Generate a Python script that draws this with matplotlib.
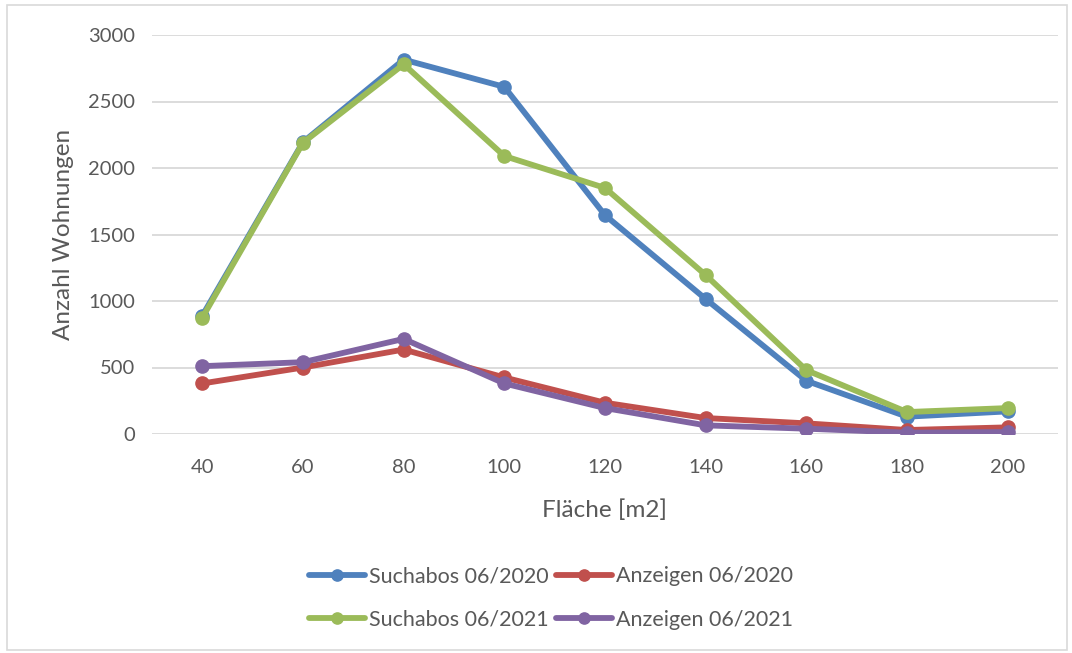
import numpy as np
import matplotlib
matplotlib.use("Agg")
import matplotlib.pyplot as plt
from matplotlib.patches import Rectangle

flaeche = ["40", "60", "80", "100", "120", "140", "160", "180", "200"]
suchabos_2020 = [890, 2195, 2815, 2610, 1645, 1015, 400, 130, 170]
anzeigen_2020 = [380, 500, 635, 425, 235, 120, 80, 30, 50]
suchabos_2021 = [875, 2190, 2780, 2090, 1850, 1195, 480, 165, 195]
anzeigen_2021 = [510, 540, 715, 380, 195, 65, 40, 10, 15]

series = [
    ("Suchabos 06/2020", suchabos_2020, "#4f81bd"),
    ("Anzeigen 06/2020", anzeigen_2020, "#c0504d"),
    ("Suchabos 06/2021", suchabos_2021, "#9bbb59"),
    ("Anzeigen 06/2021", anzeigen_2021, "#8064a2"),
]

plt.rcParams['font.family'] = ['Lato', 'DejaVu Sans']
txt = "#595959"

fig = plt.figure(figsize=(10.72, 6.53), dpi=100)
fig.patches.append(Rectangle((7 / 1072, 3 / 653), 1060 / 1072, 645 / 653,
                             transform=fig.transFigure, fill=False,
                             edgecolor="#d9d9d9", linewidth=1.2))

ax = fig.add_axes([152 / 1072, 1 - 434 / 653, 906 / 1072, 399 / 653])
x = np.arange(len(flaeche))
handles = []
for name, vals, col in series:
    h, = ax.plot(x, vals, color=col, linewidth=4.2, marker="o", markersize=9.5,
                 label=name, solid_capstyle="round", solid_joinstyle="round")
    handles.append(h)

ax.set_xlim(-0.5, len(flaeche) - 0.5)
ax.set_ylim(0, 3000)
ax.set_yticks(np.arange(0, 3001, 500))
ax.set_xticks(x)
ax.set_xticklabels(flaeche)
ax.grid(axis="y", color="#d9d9d9", linewidth=1.3)
ax.set_axisbelow(True)
for s in ax.spines.values():
    s.set_visible(False)
ax.tick_params(length=0, labelsize=14.5, colors=txt, pad=12)
ax.tick_params(axis="x", pad=18)
ax.set_xlabel("Fläche [m2]", fontsize=17.5, color=txt, labelpad=17)
ax.set_ylabel("Anzahl Wohnungen", fontsize=17.5, color=txt, labelpad=10)

# legend filled row by row like the original
order = [0, 2, 1, 3]
fig.legend(handles=[handles[i] for i in order], loc="center",
           bbox_to_anchor=(0.514, 1 - 598 / 653),
           ncol=2, frameon=False, fontsize=15.5, labelcolor=txt,
           handlelength=2.6, handletextpad=0.2, columnspacing=0.3,
           labelspacing=1.1, markerscale=0.85)

fig.savefig("out.png", dpi=100)
